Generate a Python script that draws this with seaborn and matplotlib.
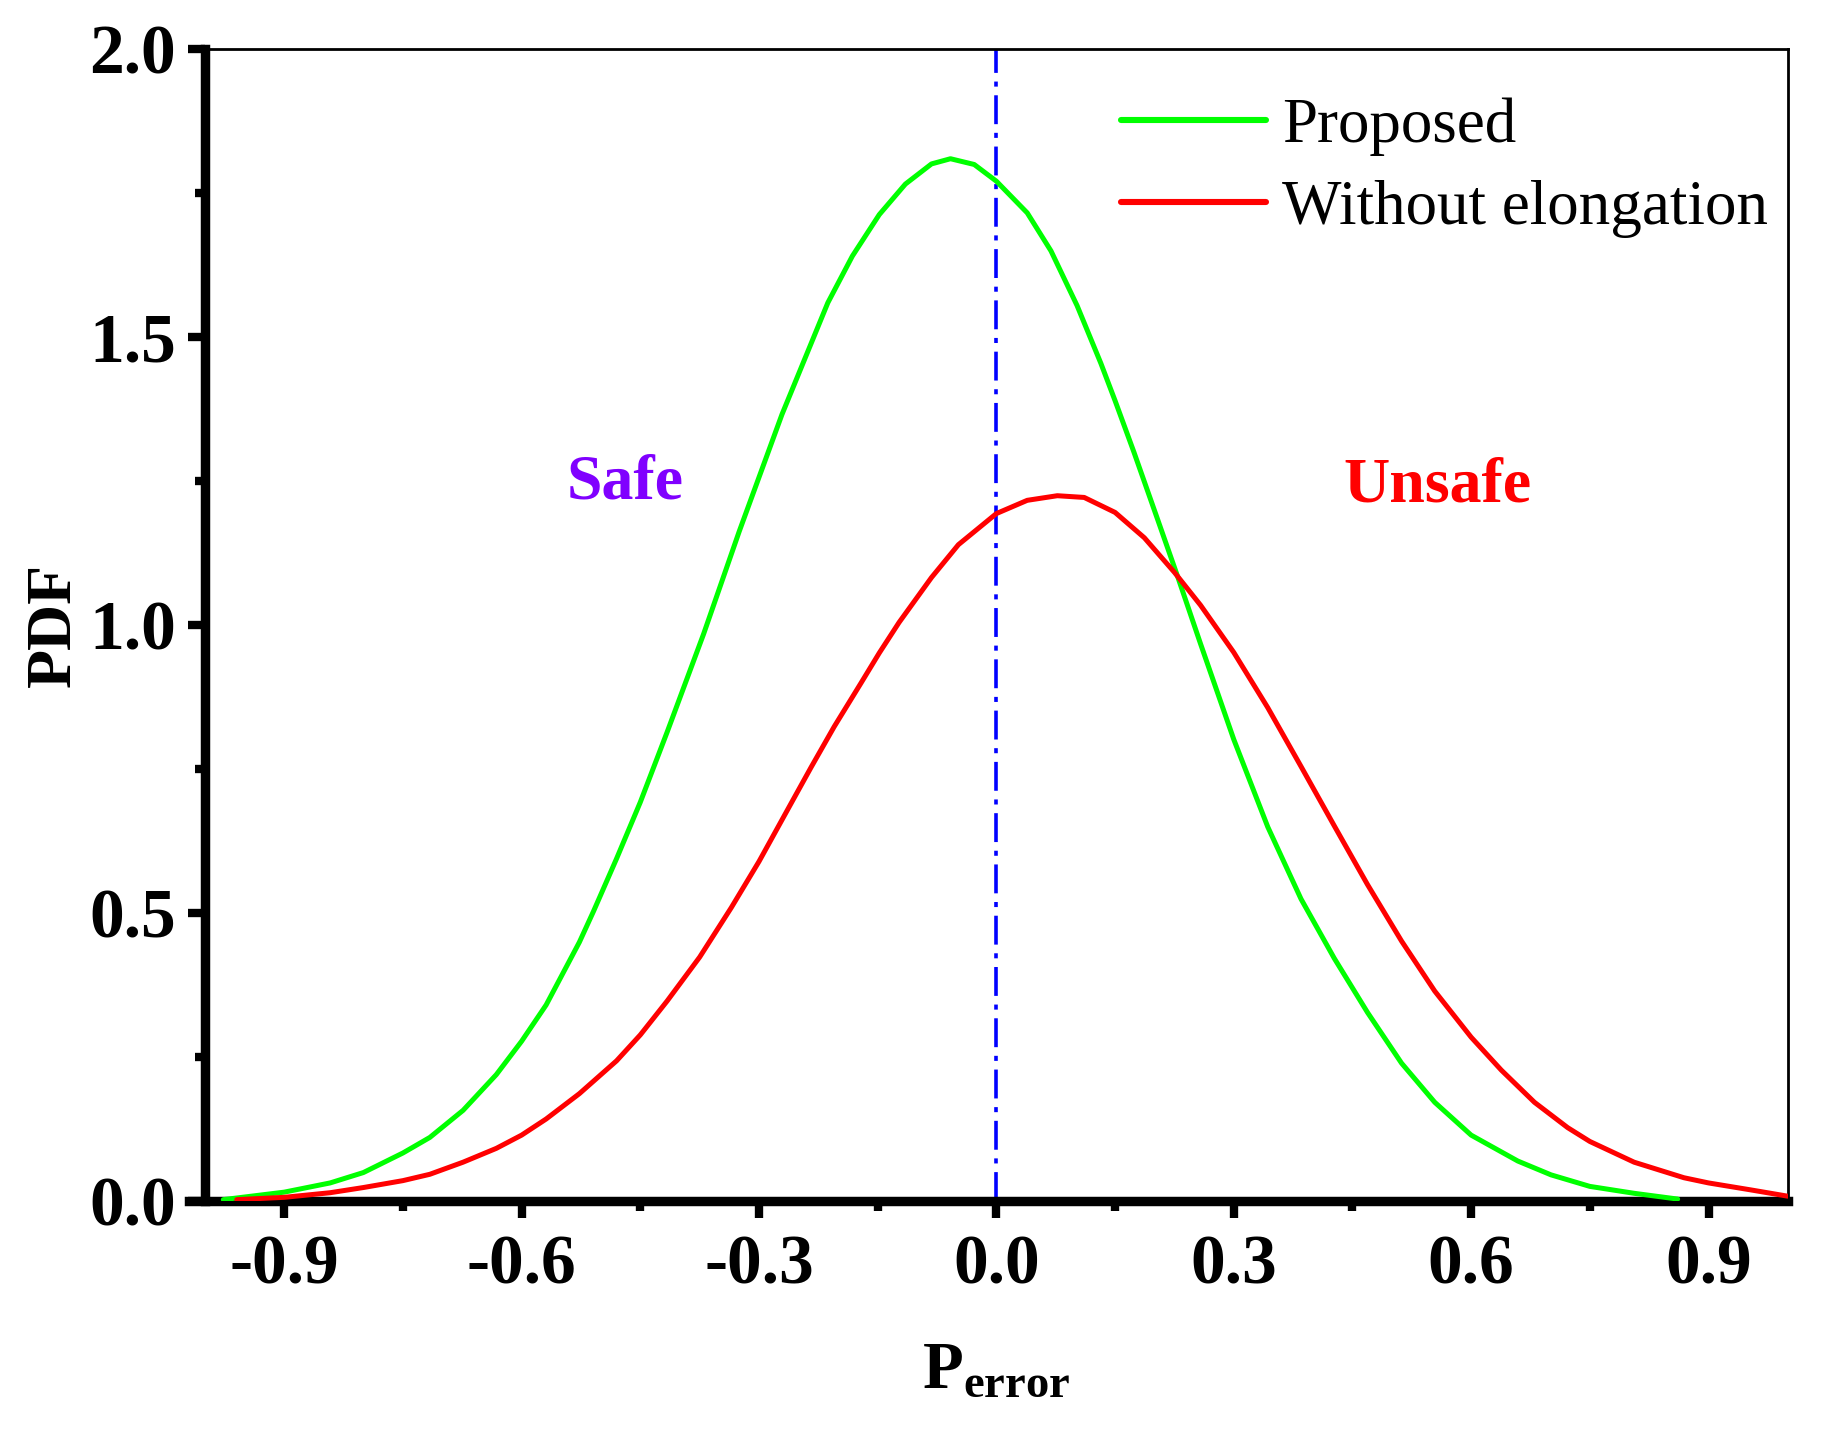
import numpy as np
import pandas as pd
import matplotlib
matplotlib.use("Agg")
import matplotlib.pyplot as plt
import seaborn as sns
from matplotlib.ticker import MultipleLocator, FormatStrFormatter

# ---- data ----
series_names = ["Proposed", "Without elongation"]

proposed_x = [-0.977, -0.9, -0.842, -0.8, -0.75, -0.716, -0.674, -0.632, -0.6, -0.569,
              -0.527, -0.509, -0.48, -0.45, -0.416, -0.37, -0.325, -0.271, -0.213, -0.182,
              -0.148, -0.115, -0.082, -0.058, -0.028, 0.0, 0.039, 0.069, 0.102, 0.132,
              0.15, 0.174, 0.204, 0.229, 0.258, 0.3, 0.343, 0.385, 0.427, 0.469,
              0.512, 0.554, 0.6, 0.659, 0.701, 0.75, 0.806, 0.861]
proposed_y = [0.003, 0.016, 0.032, 0.050, 0.084, 0.111, 0.158, 0.220, 0.278, 0.341,
              0.450, 0.504, 0.595, 0.693, 0.815, 0.985, 1.163, 1.366, 1.560, 1.641,
              1.713, 1.766, 1.801, 1.810, 1.800, 1.771, 1.716, 1.650, 1.555, 1.455,
              1.390, 1.300, 1.183, 1.085, 0.968, 0.802, 0.650, 0.525, 0.422, 0.328,
              0.240, 0.172, 0.115, 0.070, 0.046, 0.026, 0.014, 0.004]

without_x = [-0.96, -0.9, -0.842, -0.8, -0.75, -0.716, -0.674, -0.632, -0.6, -0.569,
             -0.527, -0.48, -0.45, -0.416, -0.375, -0.335, -0.3, -0.259, -0.234, -0.205,
             -0.171, -0.148, -0.123, -0.082, -0.048, 0.0, 0.039, 0.077, 0.111, 0.15,
             0.187, 0.225, 0.258, 0.3, 0.343, 0.385, 0.427, 0.469, 0.512, 0.554,
             0.6, 0.638, 0.68, 0.722, 0.75, 0.806, 0.869, 0.9, 0.953, 1.0]
without_y = [0.003, 0.007, 0.015, 0.024, 0.036, 0.047, 0.068, 0.092, 0.115, 0.143,
             0.187, 0.244, 0.289, 0.348, 0.424, 0.510, 0.590, 0.692, 0.754, 0.824,
             0.900, 0.952, 1.005, 1.083, 1.140, 1.194, 1.217, 1.225, 1.222, 1.196,
             1.152, 1.092, 1.035, 0.953, 0.857, 0.755, 0.652, 0.550, 0.452, 0.365,
             0.285, 0.228, 0.172, 0.128, 0.104, 0.068, 0.041, 0.032, 0.020, 0.009]

x_ticks = [-0.9, -0.6, -0.3, 0.0, 0.3, 0.6, 0.9]
y_ticks = [0.0, 0.5, 1.0, 1.5, 2.0]

# ---- style ----
sns.set_style("ticks")
plt.rcParams["font.family"] = ["Liberation Serif", "DejaVu Serif"]
plt.rcParams["font.weight"] = "bold"
plt.rcParams["axes.unicode_minus"] = False
plt.rcParams["mathtext.fontset"] = "custom"
plt.rcParams["mathtext.rm"] = "Liberation Serif"
plt.rcParams["mathtext.bf"] = "Liberation Serif:bold"
plt.rcParams["mathtext.it"] = "Liberation Serif:italic"
for key in ["text.color", "axes.labelcolor", "xtick.color", "ytick.color", "axes.edgecolor"]:
    plt.rcParams[key] = "black"

df = pd.concat([
    pd.DataFrame({"x": proposed_x, "y": proposed_y, "series": series_names[0]}),
    pd.DataFrame({"x": without_x, "y": without_y, "series": series_names[1]}),
], ignore_index=True)

fig = plt.figure(figsize=(9.19, 7.205), dpi=200)
ax = fig.add_axes([0.1116, 0.1663, 0.861, 0.7995])

ax.axvline(0.0, color="#0000FF", lw=1.3, dashes=(8, 2.4, 1.4, 2.4), zorder=1)

sns.lineplot(data=df, x="x", y="y", hue="series", hue_order=series_names,
             palette={series_names[0]: "#00FF00", series_names[1]: "#FF0000"},
             linewidth=1.8, estimator=None, ax=ax, zorder=3)

ax.set_xlim(-1.0, 1.0)
ax.set_ylim(0.0, 2.0)
ax.set_xticks(x_ticks)
ax.set_yticks(y_ticks)
ax.xaxis.set_minor_locator(MultipleLocator(0.15))
ax.yaxis.set_minor_locator(MultipleLocator(0.25))
ax.xaxis.set_major_formatter(FormatStrFormatter("%.1f"))
ax.yaxis.set_major_formatter(FormatStrFormatter("%.1f"))

ax.tick_params(axis="both", which="major", direction="out", length=6, width=3,
               labelsize=25, color="black", labelcolor="black")
ax.tick_params(axis="both", which="minor", direction="out", length=3.5, width=3,
               color="black")
ax.tick_params(axis="x", which="major", pad=6)
ax.tick_params(axis="y", which="major", pad=4.5)

for side in ["left", "bottom"]:
    ax.spines[side].set_linewidth(3.4)
    ax.spines[side].set_color("black")
for side in ["top", "right"]:
    ax.spines[side].set_linewidth(1.0)
    ax.spines[side].set_color("black")
    ax.spines[side].set_visible(True)
ax.spines["bottom"].set_bounds(-1.02, 1.0)

ax.set_xlabel(r"$\mathbf{P}_{\mathbf{error}}$", fontsize=24, labelpad=15)
ax.set_ylabel("PDF", fontsize=23, fontweight="bold", labelpad=2)

ax.text(-0.469, 1.247, "Safe", color="#8000FF", fontsize=23, fontweight="bold",
        ha="center", va="center")
ax.text(0.558, 1.241, "Unsafe", color="#FF0000", fontsize=23, fontweight="bold",
        ha="center", va="center")

leg = ax.legend(loc="upper right", bbox_to_anchor=(0.9956, 0.969), frameon=False,
                prop={"family": "Liberation Serif", "weight": "normal", "size": 22.7},
                handlelength=2.3, handletextpad=0.25, labelspacing=0.375,
                borderaxespad=0.0, borderpad=0.2)
for line in leg.get_lines():
    line.set_linewidth(2.2)

fig.savefig("out.png", dpi=200, facecolor="white")
